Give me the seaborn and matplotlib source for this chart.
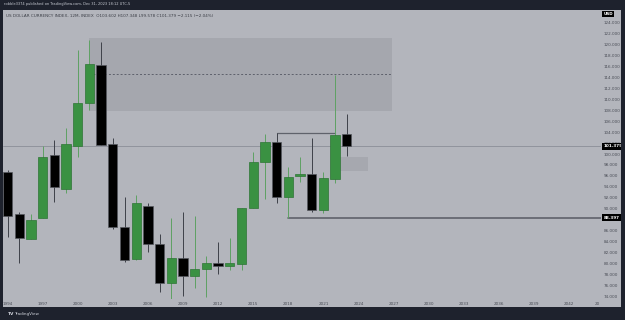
import matplotlib
matplotlib.use("Agg")
import matplotlib.pyplot as plt
import matplotlib.transforms as mtransforms
from matplotlib.patches import Rectangle
import seaborn as sns
import numpy as np

# ---- data (yearly candles, US Dollar Index) ----
years = list(range(1994, 2024))
opens = [96.7, 89.0, 84.4, 88.3, 99.8, 93.7, 101.5, 109.3, 116.3, 101.8,
         86.6, 80.9, 90.6, 83.5, 76.5, 81.0, 77.7, 79.0, 80.1, 79.5,
         80.0, 90.2, 98.6, 102.1, 92.1, 96.0, 96.4, 89.8, 95.5, 103.6]
highs = [97.1, 89.5, 89.0, 101.5, 102.6, 104.8, 119.0, 120.8, 120.4, 103.0,
         92.2, 92.5, 91.1, 85.4, 88.4, 89.5, 88.6, 81.3, 83.9, 84.6,
         90.2, 100.4, 103.6, 103.8, 97.6, 99.5, 102.9, 96.8, 114.4, 107.3]
lows = [84.9, 80.2, 84.4, 88.3, 91.3, 92.9, 99.5, 108.0, 101.6, 86.3,
        80.3, 80.6, 82.1, 74.8, 72.5, 74.0, 75.6, 73.9, 78.05, 78.8,
        78.8, 90.2, 91.8, 91.0, 88.3, 94.9, 89.35, 89.2, 94.65, 99.6]
closes = [88.6, 84.6, 88.0, 99.5, 94.0, 101.8, 109.3, 116.5, 101.6, 86.7,
          80.6, 91.0, 83.5, 76.5, 81.0, 77.7, 79.0, 80.05, 79.6, 80.1,
          90.2, 98.5, 102.1, 92.15, 95.85, 96.4, 89.8, 95.6, 103.4, 101.4]

y_ticks = list(range(74, 125, 2))
x_ticks = list(range(1994, 2043, 3))
last_price = 101.379
support_level = 88.397
resist_level = 103.8
zone_top, zone_bottom = 121.1, 107.9
zone_mid = 114.55
small_zone = (96.9, 99.4)

header = ("US DOLLAR CURRENCY INDEX, 12M, INDEX  O103.602 H107.348 L99.578 "
          "C101.379 \u22122.115 (\u22122.04%)")
published = "robble3374 published on TradingView.com, Dec 31, 2023 18:12 UTC-5"

# ---- styling ----
sns.set_theme(style="white")
plt.rcParams['font.family'] = ['DejaVu Sans']

BG = '#b3b5bc'
DARK = '#1e222d'
GREEN = '#3a9142'
GREEN_EDGE = '#2e7535'
GREEN_WICK = '#5ea163'
BLACK_EDGE = '#55585f'
BLACK_WICK = '#3e4149'
TXT = '#4a4d56'

W, H = 625, 320
fig = plt.figure(figsize=(W / 100, H / 100), dpi=100, facecolor=BG)

# dark frame bars
for (x0, y0, w, h) in [(0, 0, W, 9.5), (0, 307, W, 13), (0, 0, 3, H), (621, 0, 4, H)]:
    fig.patches.append(Rectangle((x0 / W, 1 - (y0 + h) / H), w / W, h / H,
                                 transform=fig.transFigure, facecolor=DARK,
                                 edgecolor='none', zorder=0))

ax_left, ax_right, ax_top, ax_bot = 3, 601, 10, 299
ax = fig.add_axes([ax_left / W, 1 - ax_bot / H, (ax_right - ax_left) / W,
                   (ax_bot - ax_top) / H])
ax.set_facecolor(BG)
for s in ax.spines.values():
    s.set_visible(False)

px_per_year = 11.7
x0_year = 1994 - (7.5 - ax_left) / px_per_year
x1_year = 1994 + (ax_right - 7.5) / px_per_year
ax.set_xlim(x0_year, x1_year)
ppu = 5.48
ax.set_ylim(100 - (ax_bot - 154) / ppu, 100 + (154 - ax_top) / ppu)

# zones
ax.add_patch(Rectangle((2000.97, zone_bottom), 2026.86 - 2000.97, zone_top - zone_bottom,
                       facecolor='#a5a7ae', edgecolor='none', zorder=1))
ax.plot([2001, 2026.86], [zone_mid, zone_mid], color='#5d606b', lw=0.7,
        ls=(0, (2, 2)), zorder=1.5)
ax.add_patch(Rectangle((2022.26, small_zone[0]), 2024.82 - 2022.26,
                       small_zone[1] - small_zone[0],
                       facecolor='#a6a8af', edgecolor='none', zorder=1))

# price line
ax.axhline(last_price, color='#8b8e97', lw=0.6, zorder=1.2)

# bracket lines
ax.plot([2017, 2022], [resist_level, resist_level], color='#5f626b', lw=0.9, zorder=2)
ax.plot([2018, x1_year], [support_level, support_level], color='#5f626b', lw=1.2, zorder=2)

# candles
yrs = np.array(years, dtype=float)
o = np.array(opens); c = np.array(closes); hi = np.array(highs); lo = np.array(lows)
up = c >= o
ax.vlines(yrs[up], lo[up], hi[up], color=GREEN_WICK, lw=0.7, zorder=3)
ax.vlines(yrs[~up], lo[~up], hi[~up], color=BLACK_WICK, lw=0.7, zorder=3)
bw = 0.8
ax.bar(yrs[up], (c - o)[up], bottom=o[up], width=bw, color=GREEN,
       edgecolor=GREEN_EDGE, linewidth=0.5, zorder=4)
ax.bar(yrs[~up], (o - c)[~up], bottom=c[~up], width=bw, color='black',
       edgecolor=BLACK_EDGE, linewidth=0.5, zorder=4)

# axes ticks
ax.yaxis.tick_right()
ax.set_yticks(y_ticks)
ax.set_yticklabels([f"{v:.3f}" for v in y_ticks])
ax.set_xticks(x_ticks + [2044.45])
ax.set_xticklabels([str(v) for v in x_ticks] + ["20"])
ax.tick_params(axis='y', length=0, pad=2.2, labelsize=3, labelcolor=TXT)
ax.tick_params(axis='x', length=0, pad=2.0, labelsize=3, labelcolor=TXT)
ax.grid(False)

# price labels on axis
tr = mtransforms.blended_transform_factory(ax.transAxes, ax.transData)
for val, txt in [(last_price, "101.379"), (support_level, "88.397")]:
    ax.text(1.004, val, txt, transform=tr, ha='left', va='center', fontsize=3,
            color='white', fontweight='bold',
            bbox=dict(facecolor='black', edgecolor='none', pad=0.8), zorder=6,
            clip_on=False)
ax.text(1.004, 100 + (154 - 14) / ppu, "USD", transform=tr, ha='left', va='center',
        fontsize=3, color='white', fontweight='bold',
        bbox=dict(facecolor='black', edgecolor='none', pad=1.0), zorder=6, clip_on=False)

# header texts
ax.text(0.005, 0.987, header, transform=ax.transAxes, ha='left', va='top',
        fontsize=3, color='#3c3f47', zorder=6)
fig.text(3.5 / W, 1 - 4.5 / H, published, ha='left', va='center', fontsize=2.6,
         color='#c8cbd3')
fig.text(8 / W, 1 - 314 / H, "TV", ha='left', va='center', fontsize=3.2,
         color='#d1d4dc', fontweight='bold')
fig.text(14 / W, 1 - 314 / H, "TradingView", ha='left', va='center', fontsize=3,
         color='#d1d4dc')

fig.savefig("out.png", dpi=100, facecolor=BG)
